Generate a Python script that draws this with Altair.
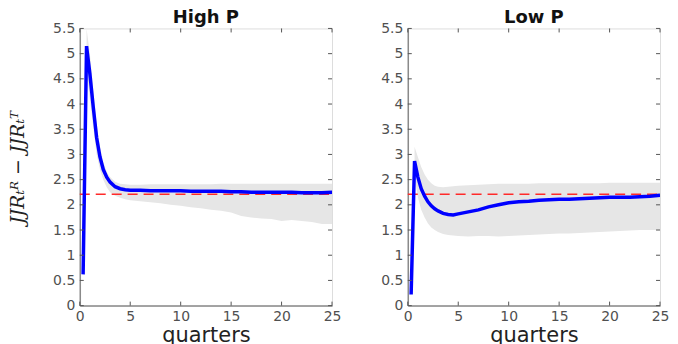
import altair as alt
import pandas as pd

# ---- data ----
t = [0.33, 0.67, 1.0, 1.33, 1.67, 2.0, 2.33, 2.67, 3.0, 3.5, 4.0, 4.5, 5, 6, 7, 8, 9, 10,
     11, 12, 13, 14, 15, 16, 17, 18, 19, 20, 21, 22, 23, 24, 25]

high_mean = [0.62, 5.15, 4.6, 3.95, 3.33, 2.95, 2.70, 2.55, 2.45, 2.36, 2.32, 2.30, 2.29, 2.29,
             2.28, 2.28, 2.28, 2.28, 2.27, 2.27, 2.27, 2.27, 2.26, 2.26, 2.25, 2.25, 2.25, 2.25,
             2.25, 2.24, 2.24, 2.24, 2.25]
high_upper = [0.70, 5.5, 5.0, 4.3, 3.6, 3.15, 2.85, 2.65, 2.55, 2.46, 2.42, 2.41, 2.40, 2.40,
              2.41, 2.41, 2.41, 2.41, 2.41, 2.41, 2.41, 2.42, 2.42, 2.42, 2.42, 2.42, 2.42, 2.42,
              2.42, 2.42, 2.42, 2.42, 2.42]
high_lower = [0.55, 4.7, 4.1, 3.55, 3.0, 2.7, 2.5, 2.35, 2.25, 2.18, 2.14, 2.11, 2.09, 2.07,
              2.05, 2.03, 2.0, 1.98, 1.95, 1.93, 1.9, 1.88, 1.85, 1.78, 1.75, 1.73, 1.72, 1.68,
              1.70, 1.68, 1.66, 1.62, 1.62]

low_mean = [0.22, 2.87, 2.55, 2.32, 2.17, 2.06, 1.98, 1.92, 1.88, 1.83, 1.81, 1.80, 1.82, 1.86,
            1.90, 1.96, 2.00, 2.04, 2.06, 2.07, 2.09, 2.10, 2.11, 2.11, 2.12, 2.13, 2.14, 2.15,
            2.15, 2.15, 2.16, 2.17, 2.19]
low_upper = [0.30, 3.15, 2.95, 2.75, 2.6, 2.5, 2.43, 2.38, 2.36, 2.35, 2.36, 2.37, 2.38, 2.39,
             2.40, 2.41, 2.42, 2.42, 2.42, 2.42, 2.43, 2.43, 2.43, 2.43, 2.43, 2.43, 2.43, 2.44,
             2.44, 2.44, 2.44, 2.44, 2.44]
low_lower = [0.15, 2.55, 2.15, 1.9, 1.75, 1.63, 1.55, 1.5, 1.46, 1.42, 1.40, 1.39, 1.38, 1.37,
             1.38, 1.38, 1.37, 1.38, 1.39, 1.40, 1.41, 1.42, 1.43, 1.43, 1.44, 1.45, 1.46, 1.47,
             1.48, 1.49, 1.50, 1.50, 1.50]

steady_state = 2.21
x_ticks = [0, 5, 10, 15, 20, 25]
y_ticks = [0, 0.5, 1, 1.5, 2, 2.5, 3, 3.5, 4, 4.5, 5, 5.5]

W, H = 253, 278
FONT = "DejaVu Sans"
AXIS_GRAY = "#8a8a8a"
LABEL_COL = "#505050"

xscale = alt.Scale(domain=[0, 25], nice=False, zero=False)
yscale = alt.Scale(domain=[0, 5.5], nice=False)


def panel(title, mean, upper, lower, show_ytitle):
    df = pd.DataFrame({"t": t, "mean": mean, "upper": upper, "lower": lower})
    df_band = df[df["t"] > 0.5]
    x_axis = alt.Axis(values=x_ticks, ticks=False, grid=False, title="quarters",
                      labelFont=FONT, labelFontSize=14, labelColor=LABEL_COL,
                      labelPadding=4, labelOverlap=False, labelFlush=False,
                      titleFont=FONT, titleFontSize=21, titleFontWeight="normal",
                      titleColor="#222222", titlePadding=1,
                      domainColor=AXIS_GRAY, domainWidth=1.5)
    y_kw = dict(values=y_ticks, ticks=False, grid=False, format=".1~f",
                labelFont=FONT, labelFontSize=14, labelColor=LABEL_COL, labelPadding=5,
                labelOverlap=False, domainColor=AXIS_GRAY, domainWidth=1.5)
    if show_ytitle:
        y_axis = alt.Axis(title="JJRₜᴿ − JJRₜᵀ", titleFont="DejaVu Serif",
                          titleFontStyle="italic", titleFontWeight="normal",
                          titleFontSize=19, titleColor="#222222", titlePadding=25, **y_kw)
    else:
        y_axis = alt.Axis(title=None, **y_kw)

    def X(field):
        return alt.X(field, scale=xscale, axis=x_axis)

    def Y(field):
        return alt.Y(field, scale=yscale, axis=y_axis)

    band = alt.Chart(df_band).mark_area(color="#e6e6e6", opacity=1, clip=True).encode(
        x=X("t:Q"), y=Y("upper:Q"), y2="lower:Q",
    )
    line = alt.Chart(df).mark_line(color="#0000ff", strokeWidth=3.5, clip=True).encode(
        x=X("t:Q"), y=Y("mean:Q"),
    )
    ss = alt.Chart(pd.DataFrame({"y": [steady_state]})).mark_rule(
        color="#ff2a2a", strokeWidth=1.3, strokeDash=[10, 6]
    ).encode(y=Y("y:Q"), x=alt.value(0), x2=alt.value(W))

    xt = pd.DataFrame({"v": x_ticks})
    yt = pd.DataFrame({"v": y_ticks})
    tick_col = "#555555"
    xt_bot = alt.Chart(xt).mark_rule(color=tick_col, strokeWidth=1).encode(
        x=X("v:Q"), y=alt.value(H), y2=alt.value(H - 4))
    xt_top = alt.Chart(xt).mark_rule(color=tick_col, strokeWidth=1).encode(
        x=X("v:Q"), y=alt.value(0), y2=alt.value(4))
    yt_l = alt.Chart(yt).mark_rule(color=tick_col, strokeWidth=1).encode(
        y=Y("v:Q"), x=alt.value(0), x2=alt.value(4))
    yt_r = alt.Chart(yt).mark_rule(color=tick_col, strokeWidth=1).encode(
        y=Y("v:Q"), x=alt.value(W), x2=alt.value(W - 4))

    return alt.layer(band, ss, line, xt_bot, xt_top, yt_l, yt_r).properties(
        width=W, height=H,
        title=alt.TitleParams(title, font=FONT, fontSize=18, fontWeight="bold",
                              color="#111111", offset=-6, frame="group"),
    )


chart = alt.hconcat(
    panel("High P", high_mean, high_upper, high_lower, True),
    panel("Low P", low_mean, low_upper, low_lower, False),
    spacing=38,
).configure_view(stroke=AXIS_GRAY, strokeWidth=1.5).configure(
    background="white", padding=0)

chart.save("out.html", embed_options={"renderer": "svg", "actions": False})
